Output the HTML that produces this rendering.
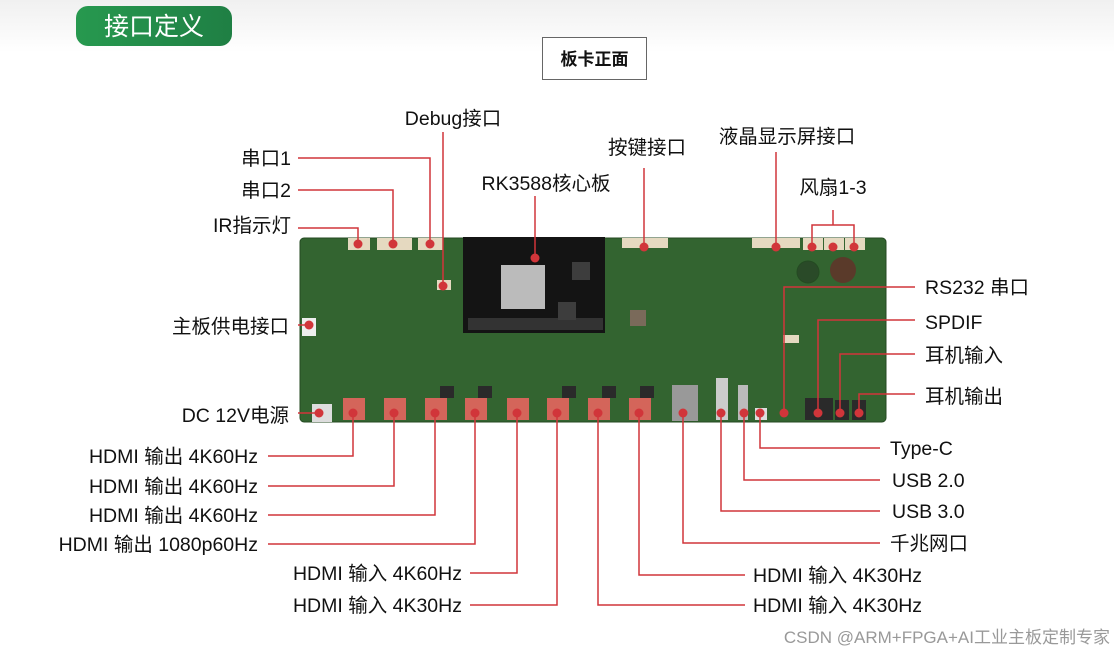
<!DOCTYPE html>
<html><head><meta charset="utf-8"><style>
html,body{margin:0;padding:0;background:#fff;}
svg{display:block;}
text{font-family:"Liberation Sans","Noto Sans CJK SC",sans-serif;font-size:19.5px;fill:#111;}
</style></head><body>
<svg width="1114" height="657" viewBox="0 0 1114 657" xmlns="http://www.w3.org/2000/svg">
<defs>
<linearGradient id="bg" x1="0" y1="0" x2="0" y2="1"><stop offset="0" stop-color="#f0f0f0"/><stop offset="0.08" stop-color="#fff"/></linearGradient>
<linearGradient id="pill" x1="0" y1="0" x2="1" y2="0"><stop offset="0" stop-color="#27994f"/><stop offset="1" stop-color="#1f7f44"/></linearGradient>
</defs>
<rect width="1114" height="657" fill="url(#bg)"/>
<rect x="76" y="6" width="156" height="40" rx="12" fill="url(#pill)"/>
<text x="154" y="35" text-anchor="middle" style="font-size:25px;fill:#fff">接口定义</text>
<rect x="542.5" y="37.5" width="104" height="42" fill="#fff" stroke="#666"/>
<text x="594.5" y="65" text-anchor="middle" style="font-size:17px;font-weight:bold">板卡正面</text>

<!-- board -->
<rect x="300" y="238" width="586" height="184" rx="4" fill="#336430"/>
<rect x="300" y="238" width="586" height="184" rx="4" fill="none" stroke="#244a22"/>
<rect x="463" y="237" width="142" height="96" fill="#141414"/>
<rect x="468" y="318" width="135" height="12" fill="#333"/>
<rect x="501" y="265" width="44" height="44" fill="#bbb"/>
<g fill="#3d3d3d"><rect x="558" y="302" width="18" height="18"/><rect x="572" y="262" width="18" height="18"/><rect x="630" y="310" width="16" height="16" fill="#7a6a5a"/></g>
<g fill="#e5d9c0">
<rect x="348" y="238" width="22" height="12"/><rect x="377" y="238" width="35" height="12"/><rect x="418" y="238" width="25" height="12"/>
<rect x="437" y="280" width="14" height="10"/>
<rect x="622" y="238" width="46" height="10"/><rect x="752" y="238" width="48" height="10"/>
<rect x="803" y="238" width="20" height="12"/><rect x="824" y="238" width="20" height="12"/><rect x="845" y="238" width="20" height="12"/>
<rect x="783" y="335" width="16" height="8"/>
<rect x="302" y="318" width="14" height="18" fill="#eee"/>
<rect x="312" y="404" width="20" height="18" fill="#ddd"/>
</g>
<circle cx="843" cy="270" r="13" fill="#5a3a2a"/>
<circle cx="808" cy="272" r="11" fill="#2a4a28" stroke="#244a22"/>
<g fill="#2a2a2a">
<rect x="440" y="386" width="14" height="12"/><rect x="478" y="386" width="14" height="12"/><rect x="562" y="386" width="14" height="12"/><rect x="602" y="386" width="14" height="12"/><rect x="640" y="386" width="14" height="12"/>
<rect x="805" y="398" width="28" height="22"/><rect x="835" y="400" width="14" height="20"/><rect x="852" y="400" width="14" height="20"/>
</g>
<g fill="#d4655a">
<rect x="343" y="398" width="22" height="22"/><rect x="384" y="398" width="22" height="22"/><rect x="425" y="398" width="22" height="22"/><rect x="465" y="398" width="22" height="22"/>
<rect x="507" y="398" width="22" height="22"/><rect x="547" y="398" width="22" height="22"/><rect x="588" y="398" width="22" height="22"/><rect x="629" y="398" width="22" height="22"/>
</g>
<rect x="672" y="385" width="26" height="36" fill="#999"/>
<rect x="716" y="378" width="12" height="42" fill="#ccc"/>
<rect x="738" y="385" width="10" height="35" fill="#bbb"/>
<rect x="755" y="408" width="12" height="12" fill="#ddd"/>

<!-- leaders -->
<g stroke="#d1353a" stroke-width="1.5" fill="none">
<polyline points="298,158 430,158 430,244"/>
<polyline points="298,190 393,190 393,244"/>
<polyline points="298,228 358,228 358,244"/>
<polyline points="443,132 443,286"/>
<polyline points="535,196 535,258"/>
<polyline points="644,168 644,247"/>
<polyline points="776,152 776,247"/>
<polyline points="833,210 833,225"/><polyline points="812,247 812,225 854,225 854,247"/>
<polyline points="915,287 784,287 784,413"/>
<polyline points="915,320 818,320 818,413"/>
<polyline points="915,354 840,354 840,413"/>
<polyline points="915,394 859,394 859,413"/>
<polyline points="880,448 760,448 760,413"/>
<polyline points="880,480 744,480 744,413"/>
<polyline points="880,511 721,511 721,413"/>
<polyline points="880,543 683,543 683,413"/>
<polyline points="745,575 639,575 639,413"/>
<polyline points="745,605 598,605 598,413"/>
<polyline points="470,605 557,605 557,413"/>
<polyline points="470,573 517,573 517,413"/>
<polyline points="268,544 475,544 475,413"/>
<polyline points="268,515 435,515 435,413"/>
<polyline points="268,486 394,486 394,413"/>
<polyline points="268,456 353,456 353,413"/>
<polyline points="298,413 319,413"/>
<polyline points="298,325 309,325"/>
</g>
<g fill="#d1353a">
<circle cx="358" cy="244" r="4.5"/><circle cx="393" cy="244" r="4.5"/><circle cx="430" cy="244" r="4.5"/><circle cx="443" cy="286" r="4.5"/>
<circle cx="535" cy="258" r="4.5"/><circle cx="644" cy="247" r="4.5"/><circle cx="776" cy="247" r="4.5"/>
<circle cx="812" cy="247" r="4.5"/><circle cx="833" cy="247" r="4.5"/><circle cx="854" cy="247" r="4.5"/>
<circle cx="309" cy="325" r="4.5"/>
<circle cx="319" cy="413" r="4.5"/><circle cx="353" cy="413" r="4.5"/><circle cx="394" cy="413" r="4.5"/><circle cx="435" cy="413" r="4.5"/><circle cx="475" cy="413" r="4.5"/>
<circle cx="517" cy="413" r="4.5"/><circle cx="557" cy="413" r="4.5"/><circle cx="598" cy="413" r="4.5"/><circle cx="639" cy="413" r="4.5"/>
<circle cx="683" cy="413" r="4.5"/><circle cx="721" cy="413" r="4.5"/><circle cx="744" cy="413" r="4.5"/><circle cx="760" cy="413" r="4.5"/>
<circle cx="784" cy="413" r="4.5"/><circle cx="818" cy="413" r="4.5"/><circle cx="840" cy="413" r="4.5"/><circle cx="859" cy="413" r="4.5"/>
</g>

<!-- labels -->
<text x="453" y="125" text-anchor="middle">Debug接口</text>
<text x="546" y="190" text-anchor="middle">RK3588核心板</text>
<text x="647" y="154" text-anchor="middle">按键接口</text>
<text x="787" y="143" text-anchor="middle">液晶显示屏接口</text>
<text x="833" y="194" text-anchor="middle">风扇1-3</text>
<text x="291" y="165" text-anchor="end">串口1</text>
<text x="291" y="197" text-anchor="end">串口2</text>
<text x="291" y="232" text-anchor="end">IR指示灯</text>
<text x="289" y="333" text-anchor="end">主板供电接口</text>
<text x="289" y="422" text-anchor="end">DC 12V电源</text>
<text x="258" y="463" text-anchor="end">HDMI 输出 4K60Hz</text>
<text x="258" y="493" text-anchor="end">HDMI 输出 4K60Hz</text>
<text x="258" y="522" text-anchor="end">HDMI 输出 4K60Hz</text>
<text x="258" y="551" text-anchor="end">HDMI 输出 1080p60Hz</text>
<text x="462" y="580" text-anchor="end">HDMI 输入 4K60Hz</text>
<text x="462" y="612" text-anchor="end">HDMI 输入 4K30Hz</text>
<text x="753" y="582">HDMI 输入 4K30Hz</text>
<text x="753" y="612">HDMI 输入 4K30Hz</text>
<text x="890" y="550">千兆网口</text>
<text x="892" y="518">USB 3.0</text>
<text x="892" y="487">USB 2.0</text>
<text x="890" y="455">Type-C</text>
<text x="925" y="294">RS232 串口</text>
<text x="925" y="329">SPDIF</text>
<text x="925" y="362">耳机输入</text>
<text x="925" y="403">耳机输出</text>
<text x="1110" y="643" text-anchor="end" style="font-size:17px;fill:#999">CSDN @ARM+FPGA+AI工业主板定制专家</text>
</svg>
</body></html>
